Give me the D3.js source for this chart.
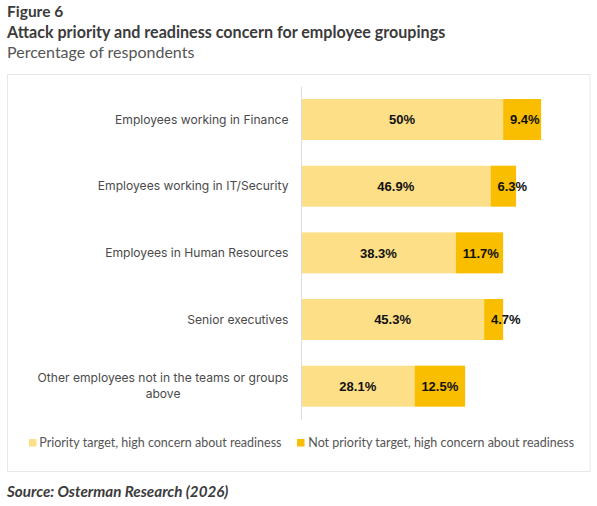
<!DOCTYPE html>
<html>
<head>
<meta charset="utf-8">
<script src="https://cdn.jsdelivr.net/npm/d3@7"></script>
<style>
  html, body { margin: 0; padding: 0; background: #ffffff; }
  svg { display: block; }
</style>
</head>
<body>
<svg id="chart" width="597" height="506"></svg>
<script>
// ---- data ----
const categories = [
  "Employees working in Finance",
  "Employees working in IT/Security",
  "Employees in Human Resources",
  "Senior executives",
  "Other employees not in the teams or groups above"
];
const priorityValues = [50, 46.9, 38.3, 45.3, 28.1];
const notPriorityValues = [9.4, 6.3, 11.7, 4.7, 12.5];
const seriesNames = [
  "Priority target, high concern about readiness",
  "Not priority target, high concern about readiness"
];
const titleLines = ["Figure 6", "Attack priority and readiness concern for employee groupings"];
const subtitle = "Percentage of respondents";
const source = "Source: Osterman Research (2026)";

// ---- styles ----
const colors = ["#FDDF88", "#F9BE00"];
const calibriLike = "Lato, 'Open Sans', sans-serif";
const aptosLike = "Inter, 'Noto Sans', sans-serif";
const labelFont = "'Liberation Sans', Arial, sans-serif";

const svg = d3.select("#chart");

// titles
svg.append("text").attr("x", 7).attr("y", 17)
  .attr("font-family", calibriLike).attr("font-weight", 700).attr("font-size", 15.5)
  .attr("fill", "#3b3b3b").text(titleLines[0]);
svg.append("text").attr("x", 7).attr("y", 38)
  .attr("font-family", calibriLike).attr("font-weight", 700).attr("font-size", 16.1)
  .attr("fill", "#3b3b3b").text(titleLines[1]);
svg.append("text").attr("x", 7).attr("y", 58)
  .attr("font-family", calibriLike).attr("font-weight", 400).attr("font-size", 16)
  .attr("fill", "#555555").text(subtitle);

// frame
svg.append("rect").attr("x", 7.5).attr("y", 74.5).attr("width", 582.5).attr("height", 397)
  .attr("fill", "#ffffff").attr("stroke", "#e8e8e8").attr("stroke-width", 1);

// scales
const x = d3.scaleLinear().domain([0, 70]).range([301, 584]);
const y = d3.scaleBand().domain(categories).range([86.2, 419.5])
  .paddingInner(0.385).paddingOuter(0.1925);

// stacked data
const rows = categories.map((c, i) => ({ cat: c, a: priorityValues[i], b: notPriorityValues[i] }));
const stack = d3.stack().keys(["a", "b"])(rows);

const g = svg.append("g");
stack.forEach((layer, li) => {
  g.append("g").selectAll("rect").data(layer).join("rect")
    .attr("x", d => x(d[0]))
    .attr("y", d => y(d.data.cat))
    .attr("width", d => x(d[1]) - x(d[0]))
    .attr("height", y.bandwidth())
    .attr("fill", colors[li]);
});

// value labels
const fmt = v => v + "%";
g.append("g").selectAll("text").data(stack[0]).join("text")
  .attr("x", d => (x(d[0]) + x(d[1])) / 2)
  .attr("y", d => y(d.data.cat) + y.bandwidth() / 2)
  .attr("dy", "0.36em")
  .attr("text-anchor", "middle")
  .attr("font-family", labelFont).attr("font-weight", 700).attr("font-size", 13)
  .attr("fill", "#111111")
  .text(d => fmt(d.data.a));
g.append("g").selectAll("text").data(stack[1]).join("text")
  .attr("x", d => x(d[0]) + 6.8)
  .attr("y", d => y(d.data.cat) + y.bandwidth() / 2)
  .attr("dy", "0.36em")
  .attr("text-anchor", "start")
  .attr("font-family", labelFont).attr("font-weight", 700).attr("font-size", 13)
  .attr("fill", "#111111")
  .text(d => fmt(d.data.b));

// y axis
const yAxis = d3.axisLeft(y).tickSize(0).tickPadding(12.5);
const axG = svg.append("g").attr("transform", `translate(${x(0)},0)`).call(yAxis);
axG.select(".domain").attr("stroke", "#dcdcdc").attr("stroke-width", 1);
axG.selectAll(".tick text")
  .attr("font-family", aptosLike).attr("font-size", 12.1).attr("fill", "#4a4a4a");

// wrap long labels: lines centered within a right-aligned block
function wrap(textSel, maxW, pad) {
  textSel.each(function () {
    const t = d3.select(this);
    const words = t.text().split(/\s+/);
    t.text(null);
    const lines = [];
    let line = [];
    const probe = t.append("tspan");
    words.forEach(w => {
      line.push(w);
      probe.text(line.join(" "));
      if (probe.node().getComputedTextLength() > maxW && line.length > 1) {
        line.pop();
        lines.push(line.join(" "));
        line = [w];
      }
    });
    lines.push(line.join(" "));
    probe.remove();
    const widths = lines.map(l => {
      const s = t.append("tspan").text(l);
      const wdt = s.node().getComputedTextLength();
      s.remove();
      return wdt;
    });
    const maxLine = d3.max(widths);
    const cx = -pad - maxLine / 2;
    const lh = 16;
    const n = lines.length;
    t.attr("text-anchor", "middle").attr("dy", null).attr("x", null);
    lines.forEach((l, i) => {
      t.append("tspan").attr("x", cx)
        .attr("y", (i - (n - 1) / 2) * lh)
        .attr("dy", "0.34em")
        .text(l);
    });
  });
}
axG.selectAll(".tick text").call(wrap, 262, 12.5);

// legend
const legendItems = [
  { name: seriesNames[0], color: colors[0], sx: 29, tx: 39.3 },
  { name: seriesNames[1], color: colors[1], sx: 297, tx: 308.3 }
];
const lg = svg.append("g");
legendItems.forEach(it => {
  lg.append("rect").attr("x", it.sx).attr("y", 439).attr("width", 7.5).attr("height", 7.5)
    .attr("fill", it.color);
  lg.append("text").attr("x", it.tx).attr("y", 443).attr("dy", "0.35em")
    .attr("font-family", calibriLike).attr("font-size", 12.5).attr("fill", "#555555")
    .text(it.name);
});

// source
svg.append("text").attr("x", 7).attr("y", 497)
  .attr("font-family", calibriLike).attr("font-weight", 700).attr("font-style", "italic")
  .attr("font-size", 15.2).attr("fill", "#3b3b3b").text(source);
</script>
</body>
</html>
